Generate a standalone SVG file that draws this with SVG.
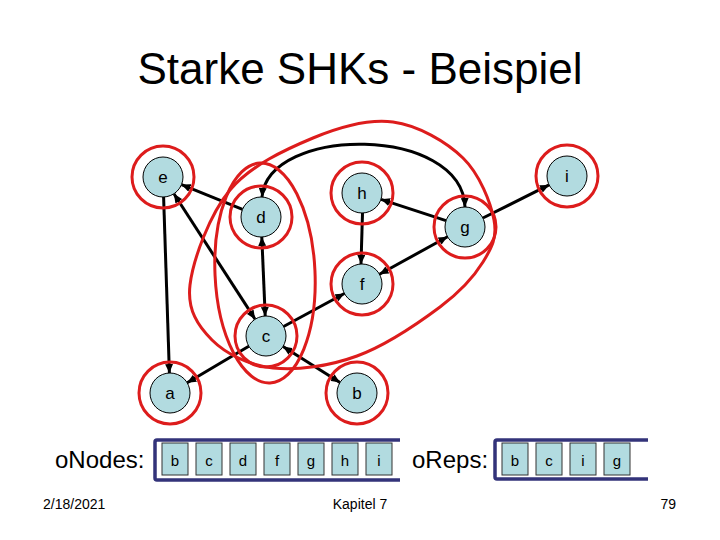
<svg xmlns="http://www.w3.org/2000/svg" width="720" height="540" viewBox="0 0 720 540">
<defs>
<marker id="ah" markerUnits="userSpaceOnUse" markerWidth="9" markerHeight="8" refX="9" refY="4" orient="auto-start-reverse"><path d="M0,0 L9,4 L0,8 z" fill="#000"/></marker>
<style>
text{font-family:"Liberation Sans",Arial,sans-serif;fill:#000}
.title{font-size:44px;text-anchor:middle}
.lbl{font-size:17px;text-anchor:middle}
.ring{fill:none;stroke:#dd1c1c;stroke-width:3}
.node{fill:#b2dbe0;stroke:#000;stroke-width:1}
.edge{fill:none;stroke:#000;stroke-width:3}
.scc{fill:none;stroke:#dd1c1c;stroke-width:3}
.box{fill:none;stroke:#33337a;stroke-width:3.5}
.cell{fill:#b2dbe0;stroke:#333;stroke-width:1}
.ctxt{font-size:15px;text-anchor:middle}
.big{font-size:24px}
.foot{font-size:14px}
</style>
</defs>
<rect width="720" height="540" fill="#fff"/>
<text class="title" x="360" y="84">Starke SHKs - Beispiel</text>

<g id="connectors">
<line class="edge" x1="242.5" y1="209.4" x2="181.5" y2="184.6" marker-end="url(#ah)"/>
<line class="edge" x1="173.9" y1="193.8" x2="255.1" y2="319.2" marker-start="url(#ah)" marker-end="url(#ah)"/>
<line class="edge" x1="163.6" y1="197" x2="169.4" y2="373" marker-end="url(#ah)"/>
<line class="edge" x1="261.8" y1="237" x2="265.2" y2="316" marker-start="url(#ah)" marker-end="url(#ah)"/>
<path class="edge" d="M465,207 C462,125 268,125 262,197" marker-start="url(#ah)" marker-end="url(#ah)"/>
<line class="edge" x1="446" y1="220.7" x2="381" y2="199.3" marker-end="url(#ah)"/>
<line class="edge" x1="362.5" y1="213" x2="361" y2="264" marker-end="url(#ah)"/>
<line class="edge" x1="379.5" y1="274.3" x2="447.5" y2="236.7" marker-start="url(#ah)" marker-end="url(#ah)"/>
<line class="edge" x1="482.9" y1="218" x2="549.1" y2="184.9" marker-end="url(#ah)"/>
<line class="edge" x1="283.6" y1="326.5" x2="344.4" y2="293.5" marker-end="url(#ah)"/>
<line class="edge" x1="248.8" y1="346.2" x2="187.2" y2="382.8" marker-end="url(#ah)"/>
<line class="edge" x1="340" y1="382.4" x2="283" y2="346.6" marker-start="url(#ah)" marker-end="url(#ah)"/>
</g>

<g id="node-e"><circle class="node" cx="163" cy="177" r="20"/><circle class="ring" cx="163" cy="177" r="31"/><text class="lbl" x="163" y="183">e</text></g>
<g id="node-d"><circle class="node" cx="261" cy="217" r="20"/><circle class="ring" cx="261" cy="217" r="31"/><text class="lbl" x="261" y="223">d</text></g>
<g id="node-h"><circle class="node" cx="362" cy="193" r="20"/><circle class="ring" cx="362" cy="193" r="31"/><text class="lbl" x="362" y="199">h</text></g>
<g id="node-g"><circle class="node" cx="465" cy="227" r="20"/><circle class="ring" cx="465" cy="227" r="31"/><text class="lbl" x="465" y="233">g</text></g>
<g id="node-i"><circle class="node" cx="567" cy="176" r="20"/><circle class="ring" cx="567" cy="176" r="31"/><text class="lbl" x="567" y="182">i</text></g>
<g id="node-f"><circle class="node" cx="362" cy="284" r="20"/><circle class="ring" cx="362" cy="284" r="31"/><text class="lbl" x="362" y="290">f</text></g>
<g id="node-c"><circle class="node" cx="266" cy="336" r="20"/><circle class="ring" cx="266" cy="336" r="31"/><text class="lbl" x="266" y="342">c</text></g>
<g id="node-a"><circle class="node" cx="170" cy="393" r="20"/><circle class="ring" cx="170" cy="393" r="31"/><text class="lbl" x="170" y="399">a</text></g>
<g id="node-b"><circle class="node" cx="357" cy="393" r="20"/><circle class="ring" cx="357" cy="393" r="31"/><text class="lbl" x="357" y="399">b</text></g>

<g id="components">
<ellipse class="scc" cx="265" cy="273" rx="50" ry="110" transform="rotate(-2.6 265 273)"/>
<path class="scc" d="M190,285 C193,260 209.5,214.5 230,190 C250.5,165.5 285.8,149.3 313,138 C340.2,126.7 368,118.7 393,122 C418,125.3 446.2,141.7 463,158 C479.8,174.3 490.7,202.7 494,220 C497.3,237.3 492,247.5 483,262 C474,276.5 461,291.3 440,307 C419,322.7 384.8,345.8 357,356 C329.2,366.2 297.2,370.7 273,368 C248.8,365.3 225.8,353.8 212,340 C198.2,326.2 187,310 190,285 Z"/>
</g>

<g id="oNodes">
<text class="big" x="55" y="468">oNodes:</text>
<path class="box" d="M400,440 H157 Q155,440 155,442 V478 Q155,480 157,480 H400"/>
<rect class="cell" x="162" y="443" width="26" height="32"/><text class="ctxt" x="175" y="466">b</text>
<rect class="cell" x="196" y="443" width="26" height="32"/><text class="ctxt" x="209" y="466">c</text>
<rect class="cell" x="230" y="443" width="26" height="32"/><text class="ctxt" x="243" y="466">d</text>
<rect class="cell" x="264" y="443" width="26" height="32"/><text class="ctxt" x="277" y="466">f</text>
<rect class="cell" x="298" y="443" width="26" height="32"/><text class="ctxt" x="311" y="466">g</text>
<rect class="cell" x="332" y="443" width="26" height="32"/><text class="ctxt" x="345" y="466">h</text>
<rect class="cell" x="366" y="443" width="26" height="32"/><text class="ctxt" x="379" y="466">i</text>
</g>

<g id="oReps">
<text class="big" x="412" y="468">oReps:</text>
<path class="box" d="M648,440 H497 Q495,440 495,442 V477 Q495,479 497,479 H648"/>
<rect class="cell" x="502" y="443" width="26" height="32"/><text class="ctxt" x="515" y="466">b</text>
<rect class="cell" x="536" y="443" width="26" height="32"/><text class="ctxt" x="549" y="466">c</text>
<rect class="cell" x="570" y="443" width="26" height="32"/><text class="ctxt" x="583" y="466">i</text>
<rect class="cell" x="604" y="443" width="26" height="32"/><text class="ctxt" x="617" y="466">g</text>
</g>

<text class="foot" x="43" y="509">2/18/2021</text>
<text class="foot" x="360" y="509" text-anchor="middle">Kapitel 7</text>
<text class="foot" x="676" y="509" text-anchor="end">79</text>
</svg>
